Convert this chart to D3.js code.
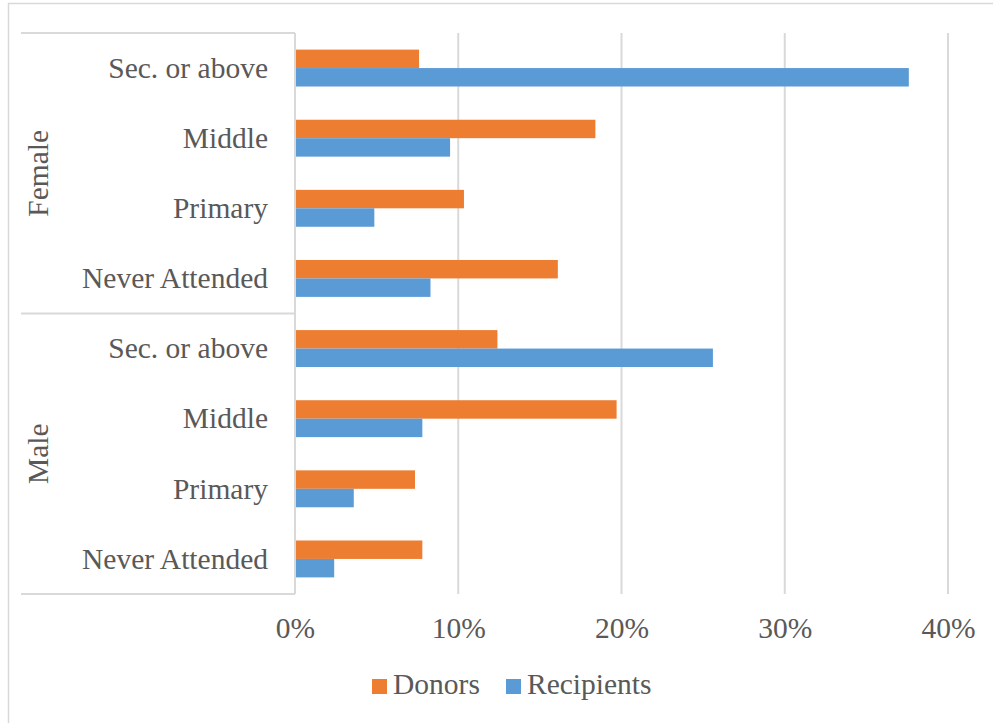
<!DOCTYPE html>
<html>
<head>
<meta charset="utf-8">
<script src="https://cdn.jsdelivr.net/npm/d3@7"></script>
<style>
  html, body { margin: 0; padding: 0; background: #fff; }
  svg { display: block; }
  text { font-family: "Liberation Serif", "Times New Roman", serif; fill: #595959; }
</style>
</head>
<body>
<svg id="chart" width="993" height="723"></svg>
<script>
// ---- data ----
const groups = ["Female", "Male"];
const levels = ["Sec. or above", "Middle", "Primary", "Never Attended"];
const seriesNames = ["Donors", "Recipients"];
const donorsFemale = [0.076, 0.184, 0.1035, 0.161];
const recipientsFemale = [0.376, 0.095, 0.0486, 0.083];
const donorsMale = [0.124, 0.197, 0.0735, 0.078];
const recipientsMale = [0.256, 0.078, 0.036, 0.024];
const xTicks = [0, 0.1, 0.2, 0.3, 0.4];
const colors = ["#ED7D31", "#5B9BD5"];

// build rows
const rows = [];
groups.forEach((g, gi) => {
  levels.forEach((l, li) => {
    const d = gi === 0 ? donorsFemale[li] : donorsMale[li];
    const r = gi === 0 ? recipientsFemale[li] : recipientsMale[li];
    rows.push({ key: g + "|" + l, group: g, level: l, values: [d, r] });
  });
});

const FS = 29.5;
const svg = d3.select("#chart");
const plotTop = 33, plotBottom = 594, axisX = 295, rightX = 948;
const gridColor = "#d9d9d9";

// outer frame (partially visible)
svg.append("line").attr("x1", 8.5).attr("x2", 8.5).attr("y1", 3).attr("y2", 723)
  .attr("stroke", gridColor).attr("stroke-width", 1.5);
svg.append("line").attr("x1", 8).attr("x2", 993).attr("y1", 3.5).attr("y2", 3.5)
  .attr("stroke", gridColor).attr("stroke-width", 1.5);

const x = d3.scaleLinear().domain([0, 0.4]).range([axisX, rightX]);
const y = d3.scaleBand().domain(rows.map(r => r.key)).range([plotTop, plotBottom]).padding(0);
const ySub = d3.scaleBand().domain(seriesNames).range([0, y.bandwidth()]).paddingInner(0).paddingOuter(0.9);

// gridlines
svg.append("g").selectAll("line").data(xTicks.slice(1)).join("line")
  .attr("x1", d => x(d)).attr("x2", d => x(d))
  .attr("y1", plotTop).attr("y2", plotBottom)
  .attr("stroke", gridColor).attr("stroke-width", 2);

// x tick labels via axis
const xAxis = d3.axisBottom(x).tickValues(xTicks).tickFormat(d3.format(".0%")).tickSize(0).tickPadding(0);
const xg = svg.append("g").attr("transform", `translate(0, ${plotBottom})`).call(xAxis);
xg.select(".domain").remove();
xg.selectAll("text").attr("font-size", FS).attr("fill", "#595959")
  .attr("dy", null).attr("y", 44);

// bars
const rowG = svg.append("g").selectAll("g").data(rows).join("g")
  .attr("transform", d => `translate(0, ${y(d.key)})`);
rowG.selectAll("rect").data(d => d.values.map((v, i) => ({ s: seriesNames[i], v, i }))).join("rect")
  .attr("x", x(0))
  .attr("y", d => ySub(d.s))
  .attr("width", d => x(d.v) - x(0))
  .attr("height", ySub.bandwidth())
  .attr("fill", d => colors[d.i]);

// axis line (category axis)
svg.append("line").attr("x1", axisX).attr("x2", axisX).attr("y1", plotTop).attr("y2", plotBottom)
  .attr("stroke", gridColor).attr("stroke-width", 2);

// group divider lines
const groupBounds = [plotTop, y(groups[1] + "|" + levels[0]), plotBottom];
svg.append("g").selectAll("line").data(groupBounds).join("line")
  .attr("x1", 21).attr("x2", axisX)
  .attr("y1", d => d).attr("y2", d => d)
  .attr("stroke", gridColor).attr("stroke-width", 2);

// category labels
svg.append("g").selectAll("text").data(rows).join("text")
  .attr("x", 268)
  .attr("y", d => y(d.key) + y.bandwidth() / 2)
  .attr("dy", "0.33em")
  .attr("text-anchor", "end")
  .attr("font-size", FS)
  .text(d => d.level);

// group labels
groups.forEach((g, gi) => {
  const cy = (groupBounds[gi] + groupBounds[gi + 1]) / 2;
  svg.append("text")
    .attr("transform", `translate(38, ${cy}) rotate(-90)`)
    .attr("text-anchor", "middle")
    .attr("dy", "0.33em")
    .attr("font-size", FS)
    .text(g);
});

// legend
const legendItems = [
  { name: "Donors", color: colors[0], sx: 372 },
  { name: "Recipients", color: colors[1], sx: 506 }
];
const lg = svg.append("g");
legendItems.forEach(it => {
  lg.append("rect").attr("x", it.sx).attr("y", 679).attr("width", 15).attr("height", 15).attr("fill", it.color);
  lg.append("text").attr("x", it.sx + 21).attr("y", 694).attr("font-size", FS).text(it.name);
});
</script>
</body>
</html>
